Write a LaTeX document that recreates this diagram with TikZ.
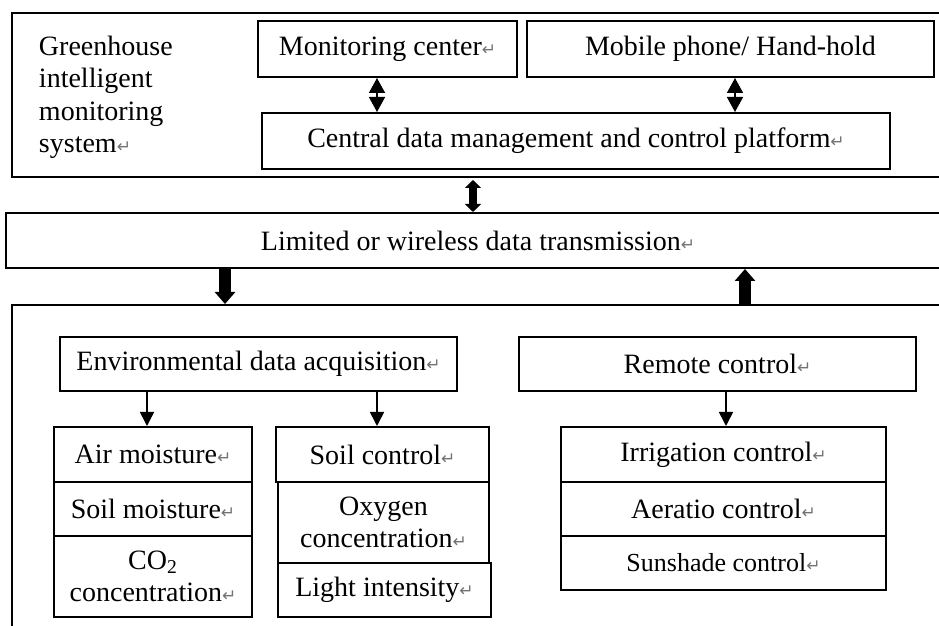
\documentclass[tikz,border=0pt]{standalone}
\usepackage{fontspec}
\setmainfont{Liberation Serif}
\newfontfamily\symfont{DejaVu Sans}
\usetikzlibrary{arrows.meta}
\newcommand{\ret}{{\symfont\fontsize{8.5}{8.5}\selectfont\textcolor{black!55}{↵}}}

\begin{document}
\begin{tikzpicture}[x=0.5pt,y=-0.5pt,line width=1pt,
    thin/.style={line width=0.8pt,-{Triangle[width=7pt,length=7pt]}},
    thindbl/.style={line width=0.8pt,{Triangle[width=8pt,length=7.5pt]}-{Triangle[width=8pt,length=7.5pt]}},
    fatdbl/.style={line width=4pt,{Triangle[width=8pt,length=4pt]}-{Triangle[width=8pt,length=4pt]}},
    fat/.style={line width=6pt,-{Triangle[width=10pt,length=6pt]}}]

      \useasboundingbox (0,0) rectangle (939,626);

      \begin{scope}[every node/.style={draw, rectangle, inner sep=0pt, align=center,
          font=\fontsize{14}{16.25}\selectfont}]
        % outer frames, open on the right
        \node[minimum width=469pt, minimum height=82pt]   (sys)   at (481,95)    {};
        \node[minimum width=472pt, minimum height=27.5pt] (trans) at (478,240.5) {Limited or wireless data transmission\ret};
        \node[minimum width=469pt, minimum height=167.5pt] (field) at (481,472.5) {};

        \node[minimum width=129.5pt, minimum height=28pt] (mon) at (387.5,49) {Monitoring center\ret};
        \node[minimum width=203.5pt, minimum height=28pt] (mob) at (730.5,49) {Mobile phone/ Hand-hold};
        \node[minimum width=314pt, minimum height=28pt]   (cdm) at (576,141)  {Central data management and control platform\ret};

        \node[minimum width=198.5pt, minimum height=27pt] (env) at (258.5,364) {Environmental data acquisition\ret};
        \node[minimum width=198.5pt, minimum height=27pt] (rem) at (717.5,364) {Remote control\ret};

        \node[minimum width=99pt, minimum height=27.5pt] (air) at (153,454.5) {Air moisture\ret};
        \node[minimum width=99pt, minimum height=27pt]   (smo) at (153,509)   {Soil moisture\ret};
        \node[minimum width=99pt, minimum height=40.5pt] (co2) at (153,576.5) {CO\textsubscript{2}\\concentration\ret};

        \node[minimum width=106.5pt, minimum height=27.5pt] (soc) at (382.5,454.5) {Soil control\ret};
        \node[minimum width=105.5pt, minimum height=40.5pt] (oxy) at (383.5,522.5) {Oxygen\\concentration\ret};
        \node[minimum width=106.5pt, minimum height=27pt]   (lig) at (384.5,590)   {Light intensity\ret};

        \node[minimum width=162.5pt, minimum height=27.5pt] (irr) at (723.5,454.5) {Irrigation control\ret};
        \node[minimum width=162.5pt, minimum height=27pt]   (aer) at (723.5,509)   {Aeratio control\ret};
        \node[minimum width=162.5pt, minimum height=27pt, font=\fontsize{13}{15}\selectfont] (sun) at (723.5,563) {Sunshade control\ret};
      \end{scope}

      \node[anchor=north west, align=left, inner sep=0pt, font=\fontsize{14}{16.25}\selectfont]
        (title) at (38,35) {Greenhouse\\intelligent\\monitoring\\system\ret};

      \coordinate (a1) at ([xshift=-5.25pt]mon.south);
      \coordinate (a2) at ([xshift=2.25pt]mob.south);
      \coordinate (a3) at ([xshift=-4pt,yshift=-1pt]sys.south);
      \coordinate (a4) at ([xshift=-126.5pt]trans.south);
      \coordinate (a5) at ([xshift=132pt]field.north);
      \coordinate (a6) at ([xshift=-55.75pt]env.south);
      \coordinate (a7) at ([xshift=59.25pt]env.south);
      \coordinate (a8) at ([xshift=4.25pt]rem.south);

      \begin{scope}[every edge/.style={draw}]
        \path (a1) edge[thindbl] (a1 |- cdm.north);
        \path (a2) edge[thindbl] (a2 |- cdm.north);
        \path (a3) edge[fatdbl]  (a3 |- trans.north);
        \path (a4) edge[fat]     (a4 |- field.north);
        \path (a5) edge[fat]     (a5 |- trans.south);
        \path (a6) edge[thin]    (a6 |- air.north);
        \path (a7) edge[thin]    (a7 |- soc.north);
        \path (a8) edge[thin]    (a8 |- irr.north);
      \end{scope}

    \end{tikzpicture}
\end{document}
